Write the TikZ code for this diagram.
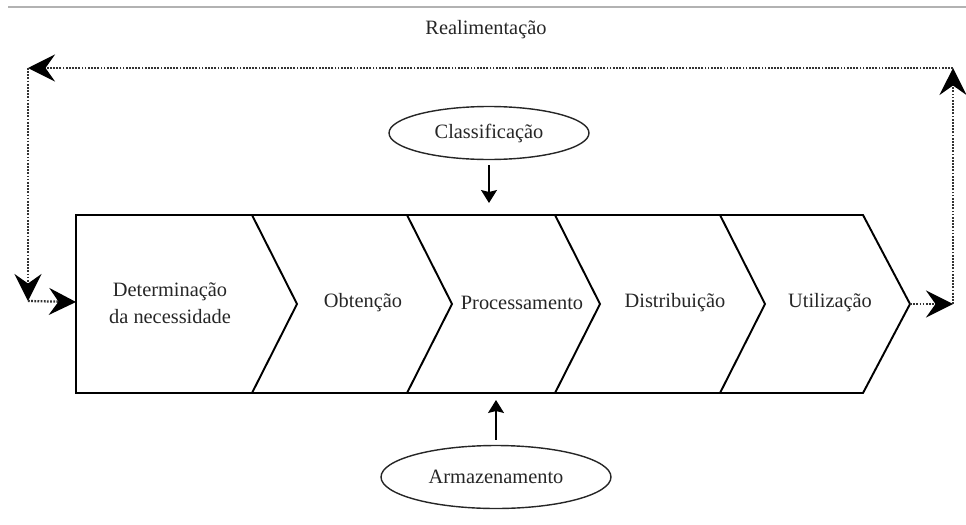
\documentclass[tikz,border=0pt]{standalone}
\usepackage{fontspec}
\setmainfont{Liberation Serif}
\usepackage{tikz}
\usetikzlibrary{shapes.geometric, arrows.meta, calc}
\tikzstyle{steptext} = [
    font=\fontsize{11.6}{15.3}\selectfont,
    text=black!85,
    align=center,
]
\tikzstyle{source} = [
    steptext,
    ellipse,
    draw=black!85,
    line width=0.8pt,
]
\tikzstyle{outline} = [
    line width=1.1pt,
    line join=miter,
]
\tikzstyle{arrow} = [-{Stealth[length=2.6mm,width=3.2mm,inset=0.4mm]}, line width=0.8pt]
\tikzstyle{loop} = [
    draw=black!80,
    line width=1.3pt,
    dash pattern=on 1pt off 0.8pt,
    -{Stealth[length=5.4mm,width=5.4mm,inset=1.9mm,black]},
]

\begin{document}
\begin{tikzpicture}[x=0.02cm, y=-0.02cm]
    \useasboundingbox (0,0) rectangle (966,524);
    \draw [gray!60, line width=1.6pt] (8,7) -- (966,7);

    % boxes
    \coordinate (boxW) at (76,302);
    \coordinate (utiltip) at (910,304);
    \draw [outline] (76,215) -- (863,215) -- (utiltip) -- (863,393) -- (76,393) -- cycle;
    \foreach \x in {252,407,555,720} {
        \draw [outline] (\x,215) -- (\x+45,304) -- (\x,393);
    }
    \foreach \name/\x/\txt in {det/170/{Determinação\\da necessidade},obt/363/Obtenção,proc/522/Processamento,dist/675/Distribuição,util/830/Utilização} {
        \node (\name) at (\x, 303) [steptext] {\txt};
    }
    \node (realim) at (486,30) [steptext] {Realimentação};
    \node (class) at (489,133) [source, minimum width=4cm, minimum height=1.06cm] {Classificação};
    \node (armaz) at (496,477) [source, minimum width=4.6cm, minimum height=1.26cm] {Armazenamento};
    \coordinate (proctop) at (489,215);
    \coordinate (procbot) at (496,393);

    % arrows
    \draw [arrow, shorten <=0.1cm, shorten >=0.24cm] (class.south) to (proctop);
    \draw [arrow, shorten <=0.1cm, shorten >=0.14cm] (armaz.north) to (procbot);

    % feedback loop
    \coordinate (fbR) at (953,304);
    \coordinate (fbRT) at (953,68);
    \coordinate (fbLT) at (28,68);
    \coordinate (fbL) at (28,301);
    \draw [loop] (utiltip) to (fbR);
    \draw [loop] (fbR) to (fbRT);
    \draw [loop] (fbRT) to (fbLT);
    \draw [loop] (fbLT) to (fbL);
    \draw [loop] (fbL) to (boxW);

\end{tikzpicture}
\end{document}
